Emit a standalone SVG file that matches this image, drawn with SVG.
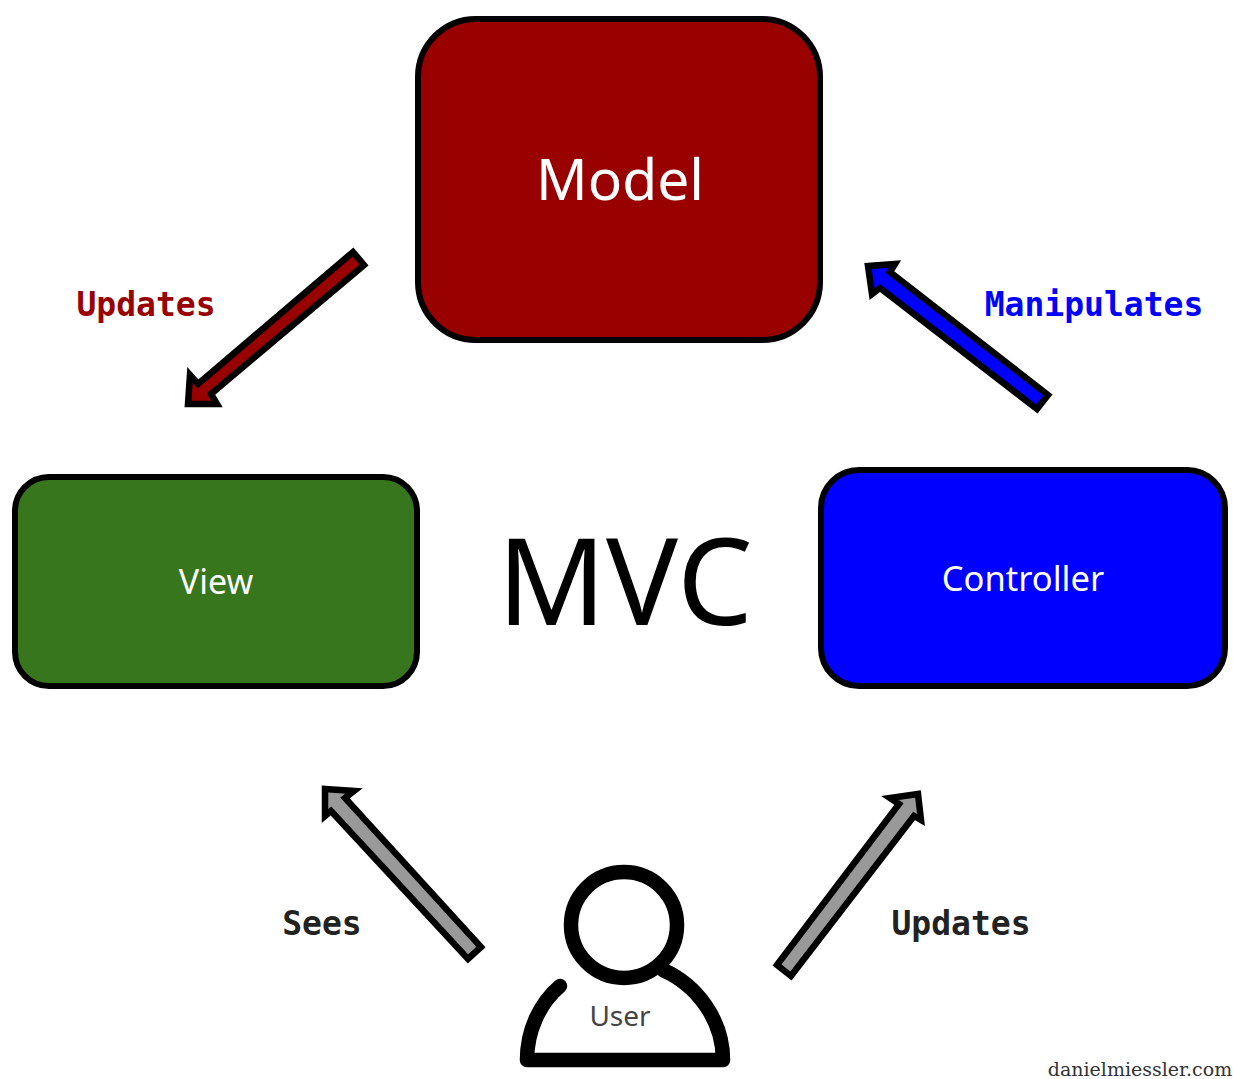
<svg xmlns="http://www.w3.org/2000/svg" width="1233" height="1079" viewBox="0 0 1233 1079">
<style>
.box{stroke:#000;stroke-width:6}
.arrow{stroke:#000;stroke-width:6.5;stroke-linejoin:miter;stroke-miterlimit:3}
.sans{font-family:"Noto Sans","Open Sans",sans-serif;text-anchor:middle}
.mono{font-family:"DejaVu Sans Mono","Liberation Mono",monospace;font-weight:bold;font-size:33px;text-anchor:middle}
.line{fill:none;stroke:#000;stroke-width:14.5;stroke-linecap:round;stroke-linejoin:round}
</style>
<rect width="1233" height="1079" fill="#fff"/>
<g id="connectors">
<polygon class="arrow" fill="#990000" points="353,252 364,265 211,394 217,404 188,404 190,375 198,384"/>
<polygon class="arrow" fill="#0000ff" points="1048,395 1037,409 880,288 872,294 868,266 895,264 890,272"/>
<polygon class="arrow" fill="#999999" points="481,947 468,959 331,811 325,816 325,789 354,791 345,798"/>
<polygon class="arrow" fill="#999999" points="777,965 791,976 914,816 921,820 918,794 890,798 899,804"/>
</g>
<g id="model"><rect class="box" x="418" y="19" width="402" height="321" rx="58" fill="#990000"/><text class="sans" x="620" y="200" font-size="57" fill="#fff">Model</text></g>
<g id="view"><rect class="box" x="15" y="477" width="402" height="209" rx="34" fill="#38761d"/><text class="sans" x="216" y="594" font-size="34" fill="#fff">View</text></g>
<g id="controller"><rect class="box" x="821" y="470" width="404" height="216" rx="38" fill="#0000ff"/><text class="sans" x="1023" y="591" font-size="34.5" fill="#fff">Controller</text></g>
<g id="mvc"><text class="sans" x="625" y="625" font-size="120" fill="#000">MVC</text></g>
<g id="user">
<circle class="line" cx="624" cy="925" r="53"/>
<path class="line" d="M560,986 C540,1003 527,1030 527,1060 H723 C723,1020 697,985 663,970"/>
<text class="sans" x="620" y="1026" font-size="28" fill="#444">User</text>
</g>
<g id="labels">
<text class="mono" x="146" y="316" fill="#990000">Updates</text>
<text class="mono" x="1094" y="316" fill="#0000ff">Manipulates</text>
<text class="mono" x="322" y="935" fill="#222">Sees</text>
<text class="mono" x="961" y="935" fill="#222">Updates</text>
<text x="1140" y="1076" font-family="'DejaVu Serif',serif" font-size="19" text-anchor="middle" fill="#333">danielmiessler.com</text>
</g>
</svg>
